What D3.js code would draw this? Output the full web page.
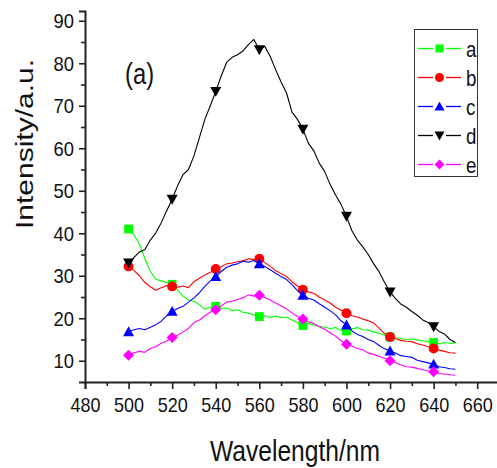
<!DOCTYPE html>
<html>
<head>
<meta charset="utf-8">
<script src="https://cdn.jsdelivr.net/npm/d3@7"></script>
<style>
    body { margin: 0; background: #fff; }
    svg { display: block; font-family: "Liberation Sans", Arial, sans-serif; }
</style>
</head>
<body>
<div id="chart"></div>
<script>
// wavelength (nm) of every sampled point
var wavelengths = [500, 502.5, 505, 507.5, 510, 512.5, 515, 517.5, 520, 522.5, 525, 527.5, 530, 532.5, 535, 537.5,
    540, 542.5, 545, 547.5, 550, 552.5, 555, 557.5, 560, 562.5, 565, 567.5, 570, 572.5, 575, 577.5,
    580, 582.5, 585, 587.5, 590, 592.5, 595, 597.5, 600, 602.5, 605, 607.5, 610, 612.5, 615, 617.5,
    620, 622.5, 625, 627.5, 630, 632.5, 635, 637.5, 640, 642.5, 645, 647.5, 650];

// wavelengths that carry a symbol
var markerWavelengths = [500, 520, 540, 560, 580, 600, 620, 640];

var seriesA = [41.0, 39.6, 37.4, 34.0, 31.0, 29.2, 28.8, 28.4, 28.0, 26.6, 25.2, 24.3, 24.0, 23.2, 22.1, 22.6,
    22.8, 22.3, 22.4, 21.8, 22.0, 21.4, 21.2, 20.8, 20.4, 20.6, 20.2, 20.5, 20.1, 20.3, 19.6, 19.0,
    18.3, 18.8, 18.4, 18.1, 17.9, 17.6, 17.8, 17.2, 17.0, 17.5, 17.8, 17.3, 17.2, 16.8, 16.4, 16.0,
    15.6, 15.4, 15.3, 15.0, 15.1, 14.9, 14.7, 14.5, 14.3, 14.0, 14.3, 14.1, 14.2];

var seriesB = [32.2, 31.2, 30.0, 28.4, 27.4, 26.6, 27.2, 27.7, 27.5, 27.3, 27.6, 27.2, 28.6, 29.4, 30.2, 30.8,
    31.6, 32.1, 32.8, 33.0, 33.3, 33.5, 34.0, 33.8, 34.0, 33.1, 32.2, 31.2, 30.5, 29.8, 28.6, 27.6,
    26.7, 26.2, 25.9, 25.0, 24.3, 23.6, 22.6, 21.9, 21.2, 20.6, 20.3, 19.8, 19.4, 18.9, 17.6, 16.4,
    15.6, 15.2, 14.8, 14.6, 14.5, 14.0, 13.7, 13.3, 12.9, 12.5, 12.2, 11.9, 11.8];

var seriesC = [16.8, 17.3, 17.6, 17.3, 17.9, 18.5, 19.3, 20.6, 21.6, 22.3, 22.8, 23.8, 24.8, 26.0, 27.5, 28.8,
    29.8, 31.0, 32.0, 32.5, 32.8, 33.4, 33.2, 33.6, 32.8, 32.2, 31.4, 30.6, 29.8, 29.1, 27.9, 26.5,
    25.4, 24.7, 24.3, 23.4, 22.6, 21.8, 20.8, 19.4, 18.4, 17.0, 16.2, 15.7, 15.0, 14.5, 13.6, 12.8,
    12.3, 11.8, 11.2, 11.0, 10.8, 10.1, 9.8, 9.5, 9.2, 8.6, 8.4, 8.1, 8.0];

var seriesD = [33.0, 34.3, 35.6, 36.2, 38.4, 40.1, 42.5, 45.3, 48.0, 51.2, 53.8, 55.0, 58.2, 62.5, 66.8, 70.0,
    73.4, 77.0, 80.2, 81.4, 82.0, 82.9, 84.4, 85.6, 83.2, 84.0, 81.6, 78.5, 75.6, 73.0, 68.5, 66.8,
    64.5, 61.2, 59.4, 56.5, 54.5, 51.5, 49.0, 46.8, 44.0, 40.6, 38.4, 36.8, 35.0, 32.8, 30.9, 28.4,
    26.2, 24.6, 23.3, 22.6, 21.6, 20.7, 19.6, 19.0, 18.0, 16.9, 16.3, 15.0, 14.3];

var seriesE = [11.3, 11.9, 12.2, 12.0, 12.9, 13.3, 14.1, 14.6, 15.5, 16.0, 16.8, 17.6, 19.0, 19.6, 20.6, 21.4,
    22.0, 22.9, 23.8, 24.0, 24.4, 24.8, 25.5, 25.2, 25.4, 24.9, 24.3, 23.6, 22.9, 22.2, 21.2, 20.4,
    19.8, 19.2, 18.8, 18.0, 17.4, 16.6, 15.8, 14.7, 13.9, 13.4, 12.9, 12.6, 11.8, 11.5, 11.0, 10.6,
    10.0, 9.6, 9.0, 8.6, 8.5, 8.2, 7.9, 7.6, 7.4, 7.0, 6.9, 6.7, 6.6];

var seriesNames = ['a', 'b', 'c', 'd', 'e'];
var seriesValues = [seriesA, seriesB, seriesC, seriesD, seriesE];
var seriesColors = ['#00ff00', '#ff0000', '#0000ff', '#000000', '#ff00ff'];
var seriesShapes = ['square', 'circle', 'triangleUp', 'triangleDown', 'diamond'];

var xTicks = [480, 500, 520, 540, 560, 580, 600, 620, 640, 660];
var yTicks = [10, 20, 30, 40, 50, 60, 70, 80, 90];

var width = 497, height = 468;
var squash = 0.82;  // the whole picture is a bit narrower than tall

var svg = d3.select("#chart").append("svg")
    .attr("width", width)
    .attr("height", height);

var xScale = d3.scaleLinear().domain([480, 670]).range([85, 499]);
var yScale = d3.scaleLinear().domain([5, 92.3]).range([382, 11]);

// symbol path, centred on 0,0
function shapePath(shape, s) {
    var h = s / 2;
    if (shape === 'square') {
        return "M" + (-h * 0.8) + "," + (-h * 0.8) + "h" + (s * 0.8) + "v" + (s * 0.8) + "h" + (-s * 0.8) + "Z";
    } else if (shape === 'circle') {
        var r = h * 0.9;
        return "M" + (-r) + ",0a" + r + "," + r + " 0 1,0 " + (2 * r) + ",0a" + r + "," + r + " 0 1,0 " + (-2 * r) + ",0Z";
    } else if (shape === 'triangleUp') {
        return "M0," + (-h) + "L" + h + "," + (h * 0.8) + "L" + (-h) + "," + (h * 0.8) + "Z";
    } else if (shape === 'triangleDown') {
        return "M0," + h + "L" + h + "," + (-h * 0.8) + "L" + (-h) + "," + (-h * 0.8) + "Z";
    } else {
        return "M0," + (-h) + "L" + h + ",0L0," + h + "L" + (-h) + ",0Z";
    }
}

//axes:
var xAxis = d3.axisBottom(xScale).tickValues(xTicks).tickSize(7).tickPadding(5).tickFormat(d3.format("d"));
var xMinor = d3.axisBottom(xScale).tickValues(d3.range(490, 670, 20)).tickSize(4).tickFormat("");
var yAxis = d3.axisLeft(yScale).tickValues(yTicks).tickSize(6).tickPadding(5).tickFormat(d3.format("d"));
var yMinor = d3.axisLeft(yScale).tickValues(d3.range(15, 92, 10)).tickSize(4).tickFormat("");

var gx = svg.append("g").attr("transform", "translate(0,382)").call(xAxis);
svg.append("g").attr("transform", "translate(0,382)").call(xMinor).select(".domain").remove();
var gy = svg.append("g").attr("transform", "translate(85,0)").call(yAxis);
svg.append("g").attr("transform", "translate(85,0)").call(yMinor).select(".domain").remove();

svg.selectAll(".domain, .tick line")
    .attr("stroke", "#222")
    .attr("stroke-width", 1.6);
svg.selectAll(".domain").attr("stroke-width", 2);

gx.selectAll(".tick text")
    .attr("font-size", 20)
    .attr("fill", "#111")
    .attr("font-family", "Liberation Sans, Arial, sans-serif")
    .attr("y", 16)
    .attr("dy", "0.71em")
    .attr("transform", "scale(0.9,1)");
gy.selectAll(".tick text")
    .attr("font-size", 20)
    .attr("fill", "#111")
    .attr("font-family", "Liberation Sans, Arial, sans-serif")
    .attr("x", -12)
    .attr("dy", "0.36em")
    .attr("transform", "scale(0.92,1)");

// plot lines and symbols
var line = d3.line()
    .x(function (d, i) { return xScale(wavelengths[i]); })
    .y(function (d) { return yScale(d); });

for (var k = 0; k < seriesValues.length; k++) {
    var values = seriesValues[k];
    svg.append("path")
        .attr("d", line(values))
        .attr("fill", "none")
        .attr("stroke", seriesColors[k])
        .attr("stroke-width", 1.1)
        .attr("stroke-linejoin", "round");

    svg.selectAll(".mark" + k)
        .data(markerWavelengths)
        .enter().append("path")
        .attr("class", "mark" + k)
        .attr("d", shapePath(seriesShapes[k], 11))
        .attr("transform", function (w) {
            var idx = wavelengths.indexOf(w);
            return "translate(" + xScale(w) + "," + yScale(values[idx]) + ")";
        })
        .attr("fill", seriesColors[k]);
}

// legend
var legend = svg.append("g");
legend.append("rect")
    .attr("x", 414.5).attr("y", 29.5)
    .attr("width", 63).attr("height", 147)
    .attr("fill", "#fff")
    .attr("stroke", "#333")
    .attr("stroke-width", 1);

seriesNames.forEach(function (name, i) {
    var cy = 48.5 + i * 29;
    legend.append("line")
        .attr("x1", 418).attr("x2", 433).attr("y1", cy).attr("y2", cy)
        .attr("stroke", seriesColors[i]).attr("stroke-width", 1.3);
    legend.append("line")
        .attr("x1", 446).attr("x2", 461).attr("y1", cy).attr("y2", cy)
        .attr("stroke", seriesColors[i]).attr("stroke-width", 1.3);
    legend.append("path")
        .attr("d", shapePath(seriesShapes[i], 10))
        .attr("transform", "translate(439.5," + cy + ")")
        .attr("fill", seriesColors[i]);
    legend.append("text")
        .attr("transform", "translate(466," + (cy + 8) + ") scale(0.85,1)")
        .attr("font-size", 22)
        .attr("fill", "#111")
        .text(name);
});

// panel label and axis titles
svg.append("text")
    .attr("transform", "translate(125,84) scale(" + squash + ",1)")
    .attr("font-size", 29)
    .attr("fill", "#111")
    .text("(a)");

svg.append("text")
    .attr("transform", "translate(295,461) scale(" + squash + ",1)")
    .attr("text-anchor", "middle")
    .attr("font-size", 30)
    .attr("fill", "#111")
    .text("Wavelength/nm");

svg.append("text")
    .attr("transform", "translate(33,144) scale(" + squash + ",1) rotate(-90)")
    .attr("text-anchor", "middle")
    .attr("font-size", 30)
    .attr("fill", "#111")
    .text("Intensity/a.u.");
</script>
</body>
</html>
